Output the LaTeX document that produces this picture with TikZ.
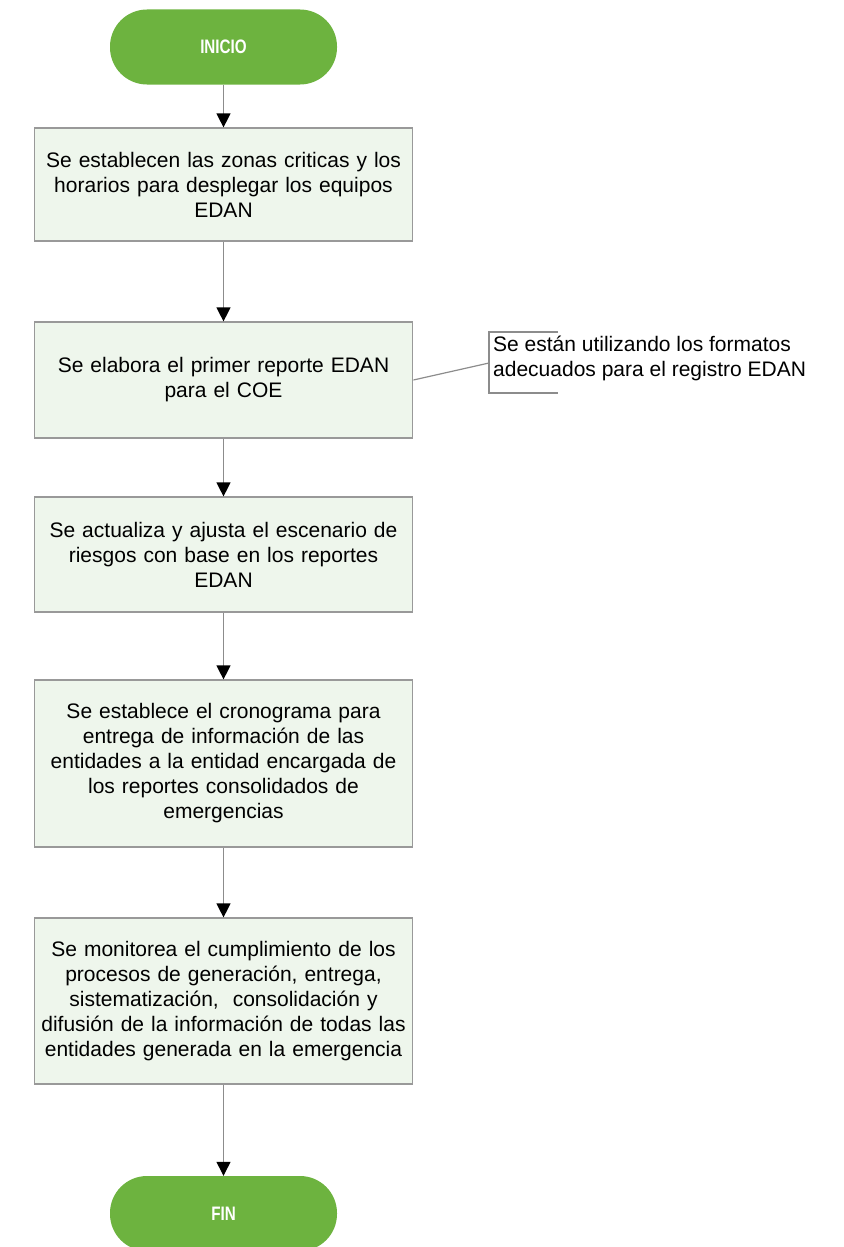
\documentclass[tikz,border=0pt]{standalone}
\usepackage{fontspec}
\setmainfont{Liberation Sans}
\newfontfamily\termfont[FakeStretch=0.78]{Liberation Sans}
\usetikzlibrary{arrows.meta}
\definecolor{termgreen}{HTML}{6DB33F}
\definecolor{boxfill}{HTML}{EEF6EC}
\definecolor{boxdraw}{HTML}{999999}
\definecolor{linegray}{HTML}{8C8C8C}
\begin{document}
\begin{tikzpicture}[x=1pt,y=-1pt,
  term/.style={rounded corners=37pt, fill=termgreen, draw=none, minimum width=227pt, minimum height=75pt, text=white, font=\termfont\bfseries\fontsize{19.5}{22}\selectfont},
  stepbox/.style={draw=boxdraw, line width=1.2pt, fill=boxfill, minimum width=377pt, align=center, text width=372pt, font=\fontsize{21}{25}\selectfont},
  conn/.style={draw=linegray, line width=1.2pt, -{Triangle[width=14pt,length=14pt,color=black]}},
  note/.style={font=\fontsize{21}{25}\selectfont, align=left, anchor=north west, inner sep=0pt}
]
\useasboundingbox (0,0) rectangle (843,1247);
\node[term] (ini) at (223.5,47) {INICIO};
\node[stepbox, minimum height=113pt] (b1) at (223.5,184.5) {Se establecen las zonas criticas y los\\horarios para desplegar los equipos\\EDAN};
\node[stepbox, minimum height=116pt] (b2) at (223.5,380) {Se elabora el primer reporte EDAN\\para el COE};
\node[stepbox, minimum height=115pt] (b3) at (223.5,554.5) {Se actualiza y ajusta el escenario de\\riesgos con base en los reportes\\EDAN};
\node[stepbox, minimum height=167pt] (b4) at (223.5,763.5) {Se establece el cronograma para\\entrega de información de las\\entidades a la entidad encargada de\\los reportes consolidados de\\emergencias};
\node[stepbox, minimum height=166pt] (b5) at (223.5,1001) {Se monitorea el cumplimiento de los\\procesos de generación, entrega,\\sistematización,~ consolidación y\\difusión de la información de todas las\\entidades generada en la emergencia};
\node[term] (fin) at (223.5,1213.5) {FIN};
\draw[conn] (ini) -- (b1);
\draw[conn] (b1) -- (b2);
\draw[conn] (b2) -- (b3);
\draw[conn] (b3) -- (b4);
\draw[conn] (b4) -- (b5);
\draw[conn] (b5) -- (fin);
% annotation
\node[note] (nt) at (493,336) {Se están utilizando los formatos\\adecuados para el registro EDAN};
\coordinate (bt) at (558,332);
\coordinate (bb) at (558,393);
\coordinate (bm) at (489,363);
\draw[draw=linegray, line width=1.2pt] (bt) -| (bb -| bm) -- (bb);
\draw[draw=linegray, line width=1.2pt] (b2.east) -- (bm);
\end{tikzpicture}
\end{document}
